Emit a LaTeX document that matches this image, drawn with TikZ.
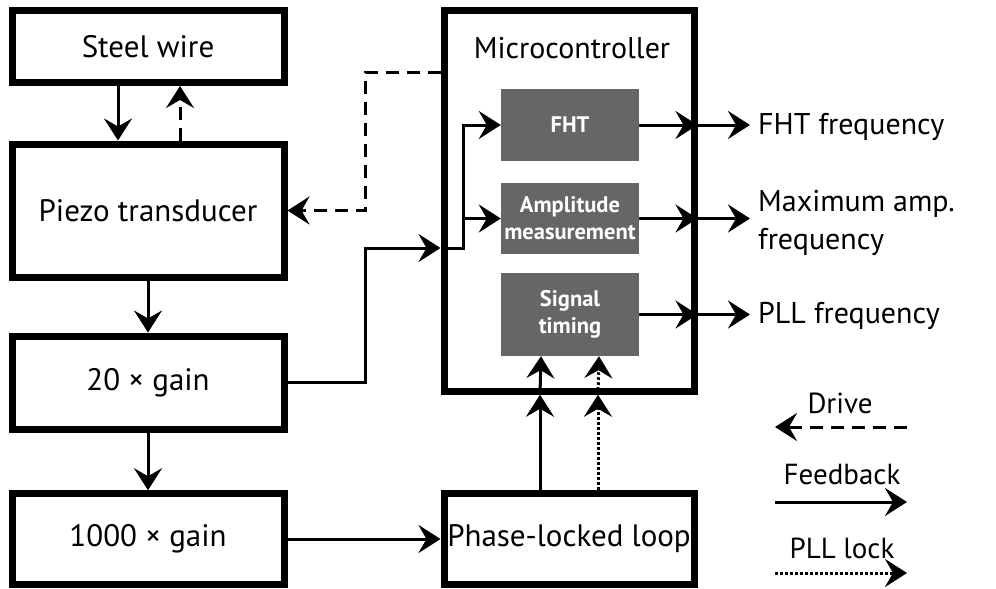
\documentclass[tikz,border=0pt]{standalone}
\usepackage{fontspec}
\setmainfont{PT Sans}
\usetikzlibrary{arrows.meta,calc}
\tikzset{
  myhead/.tip={Stealth[length=22pt,width=28pt,inset=8pt]}
}
\begin{document}
\begin{tikzpicture}[x=1pt,y=-1pt,
  blk/.style={draw=black,line width=7pt,rectangle,inner sep=0pt,align=center,
    font=\fontsize{31}{37}\selectfont},
  gblk/.style={fill=black!60,draw=none,rectangle,inner sep=0pt,align=center,text=white,
    font=\fontsize{22.5}{27}\selectfont\bfseries},
  lbl/.style={inner sep=0pt,align=left,font=\fontsize{30}{38}\selectfont},
  leg/.style={inner sep=0pt,font=\fontsize{29}{34}\selectfont},
  fb/.style={-myhead,line width=3pt},
  drv/.style={-myhead,line width=3pt,dash pattern=on 13pt off 8pt},
  lck/.style={-myhead,line width=3pt,dash pattern=on 2.5pt off 2.5pt}
]
\useasboundingbox (0,0) rectangle (996,589);
% main blocks
\node[blk,minimum width=272pt,minimum height=72pt] (steel) at (148,46.5) {Steel wire};
\node[blk,minimum width=272pt,minimum height=133pt] (piezo) at (148,210.5) {Piezo transducer};
\node[blk,minimum width=272pt,minimum height=93pt] (g20) at (148,382.5) {20 × gain};
\node[blk,minimum width=272pt,minimum height=90.5pt] (g1000) at (148,539) {1000 × gain};
\node[blk,minimum width=250pt,minimum height=380.5pt] (mc) at (569,201) {};
\node[font=\fontsize{30}{37}\selectfont,inner sep=0pt] (mct) at (572,48) {Microcontroller};
\node[blk,minimum width=250pt,minimum height=91.5pt] (pll) at (569,539) {Phase-locked loop};
% inner blocks
\node[gblk,minimum width=138pt,minimum height=72pt] (fht) at (570,125) {FHT};
\node[gblk,minimum width=138pt,minimum height=71pt] (amp) at (570,218.5) {Amplitude\\measurement};
\node[gblk,minimum width=138pt,minimum height=83pt] (sig) at (570,314.5) {Signal\\timing};
% output labels
\node[lbl,anchor=west] (fhtl) at (758,127) {FHT frequency};
\node[lbl,anchor=north west] (ampl) at (758,190) {Maximum amp.\\frequency};
\node[lbl,anchor=west] (plll) at (758,316) {PLL frequency};
% coordinates
\coordinate (j1) at (365,248);
\coordinate (j2) at (463,248);
\coordinate (d1) at (365,72);
\coordinate (o1) at (750,0);
% connectors left column
\draw[fb] ([xshift=-30pt]steel.south) -- ([xshift=-30pt]piezo.north);
\draw[drv] ([xshift=32pt]piezo.north) -- ([xshift=32pt]steel.south);
\draw[fb] (piezo.south) -- (g20.north);
\draw[fb] (g20.south) -- (g1000.north);
\draw[fb] (g1000.east) -- (pll.west);
% feedback into microcontroller
\draw[fb] (g20.east) -| (j1) -- (mc.west |- j1);
\draw[fb] (mc.west |- j1) -- (j2) |- (fht.west);
\draw[fb] (j2 |- amp.west) -- (amp.west);
% drive
\draw[drv] (mc.west |- d1) -- (d1) |- (piezo.east);
% outputs
\draw[fb] (fht.east) -- (mc.east |- fht.east);
\draw[fb] (mc.east |- fht.east) -- (o1 |- fht.east);
\draw[fb] (amp.east) -- (mc.east |- amp.east);
\draw[fb] (mc.east |- amp.east) -- (o1 |- amp.east);
\draw[fb] (sig.east) -- (mc.east |- sig.east);
\draw[fb] (mc.east |- sig.east) -- (o1 |- sig.east);
% PLL to microcontroller
\draw[fb] ([xshift=-29pt]pll.north) -- ([xshift=-29pt]mc.south);
\draw[fb] ([xshift=-29pt]mc.south) -- ([xshift=-29pt]sig.south);
\draw[lck] ([xshift=29pt]pll.north) -- ([xshift=29pt]mc.south);
\draw[lck] ([xshift=29pt]mc.south) -- ([xshift=29pt]sig.south);
% legend
\node[leg] (ld) at (840,403) {Drive};
\coordinate (lda) at (907,427);
\coordinate (ldb) at (775,427);
\draw[drv] (lda) -- (ldb);
\node[leg] (lf) at (842,475) {Feedback};
\coordinate (lfa) at (775,502);
\coordinate (lfb) at (907,502);
\draw[fb] (lfa) -- (lfb);
\node[leg] (ll) at (842,548) {PLL lock};
\coordinate (lla) at (775,573);
\coordinate (llb) at (907,573);
\draw[lck] (lla) -- (llb);
\end{tikzpicture}
\end{document}
